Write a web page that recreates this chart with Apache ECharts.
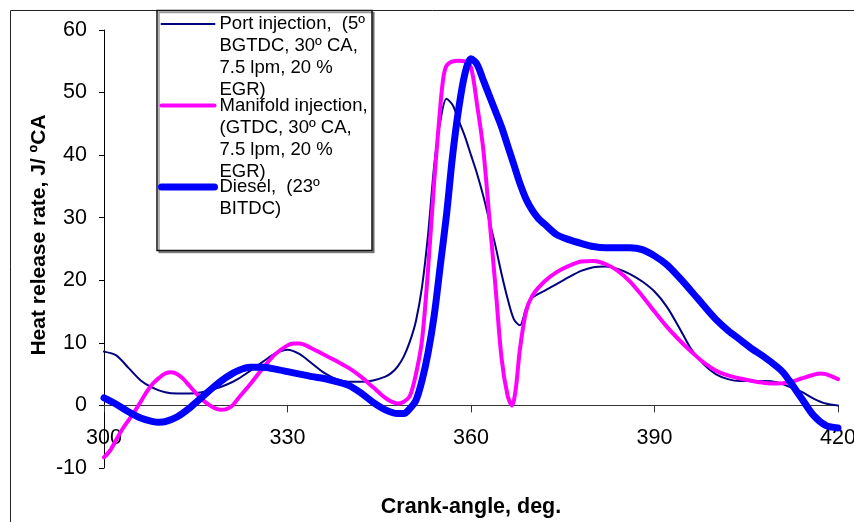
<!DOCTYPE html>
<html>
<head>
<meta charset="utf-8">
<script src="https://cdn.jsdelivr.net/npm/echarts@6/dist/echarts.min.js"></script>
<style>html,body{margin:0;padding:0;background:#fff}#c{width:854px;height:522px}</style>
</head>
<body>
<div id="c"></div>
<script>
const FONT = '"Liberation Sans", Arial, sans-serif';

const xTicks = [300, 330, 360, 390, 420];
const yTicks = [-10, 0, 10, 20, 30, 40, 50, 60];

const seriesNames = [
  'Port injection,  (5º BGTDC, 30º CA, 7.5 lpm, 20 % EGR)',
  'Manifold injection, (GTDC, 30º CA, 7.5 lpm, 20 % EGR)',
  'Diesel,  (23º BITDC)'
];
const legendLines = [
  ['Port injection,  (5º', 'BGTDC, 30º CA,', '7.5 lpm, 20 %', 'EGR)'],
  ['Manifold injection,', '(GTDC, 30º CA,', '7.5 lpm, 20 %', 'EGR)'],
  ['Diesel,  (23º', 'BITDC)']
];

const portAngles = [300,302,304,306,308,310,312,314,316,318,320,322,324,326,328,330,332,334,336,338,340,342,344,346,347,348,349,350,351,352,353,354,355,356,357,358,359,360,361,362,363,364,365,366,367,368,369,370,372,374,376,378,380,382,384,386,388,390,392,394,396,398,400,402,404,406,408,410,412,414,416,418,420];
const portValues = [8.6,8.0,6.0,4.0,2.8,2.1,1.9,1.9,2.1,2.6,3.3,4.3,5.6,7.0,8.3,8.9,8.2,6.7,5.2,4.2,3.8,3.8,4.0,4.6,5.2,6.2,7.8,10.2,13.5,19.0,27.5,38.5,45.5,49.0,48.0,45.5,43.0,40.0,37.0,33.5,29.5,25.5,21.0,17.0,13.8,12.8,15.5,17.2,18.3,19.4,20.5,21.5,22.1,22.2,21.8,21.0,19.8,18.2,15.8,12.5,9.0,6.6,5.0,4.2,3.9,3.9,3.9,3.7,3.0,2.2,1.1,0.3,0.0];

const manifoldAngles = [300,301,302,303,304,305,306,307,308,309,310,311,312,313,314,315,316,317,318,319,320,321,322,324,326,328,330,331,332,334,336,338,340,342,344,346,347,348,349,350,351,352,353,354,355,355.5,356,357,358,359,360,361,362,363,364,365,366,366.7,367.3,368,369,370,372,374,376,378,380,382,384,386,388,390,392,394,396,398,400,402,404,406,408,410,412,414,416,417,418,420];
const manifoldValues = [-8.3,-7.2,-5.5,-3.8,-2.4,-1.0,0.6,2.2,3.5,4.4,5.1,5.3,5.0,4.2,3.1,2.0,1.0,0.2,-0.4,-0.7,-0.6,0.0,1.2,3.5,6.0,8.2,9.6,9.9,9.9,9.1,8.1,7.1,6.0,4.6,2.9,1.2,0.6,0.3,0.6,1.5,5.0,10.5,22.0,36.0,48.0,52.5,54.3,55.0,55.1,55.0,54.0,48.0,41.0,30.0,19.0,7.5,1.5,0.0,2.5,9.0,15.0,17.5,19.8,21.3,22.3,23.0,23.1,22.6,21.5,19.8,17.5,15.0,12.6,10.5,8.6,6.9,5.6,4.8,4.3,3.9,3.6,3.5,3.7,4.3,4.9,5.1,5.0,4.2];

const dieselAngles = [300,302,304,306,308,309,310,312,314,316,318,320,322,324,326,328,330,332,334,336,338,340,342,344,346,348,349,350,351,352,353,354,355,356,357,358,359,360,361,362,363,364,365,366,367,368,369,370,371,372,374,376,378,380,382,384,386,388,390,392,394,396,398,400,402,404,406,408,410,411,412,414,416,418,420];
const dieselValues = [1.2,0.2,-1.0,-2.0,-2.6,-2.7,-2.6,-1.8,-0.4,1.3,3.0,4.5,5.6,6.1,6.1,5.8,5.4,5.0,4.6,4.3,3.8,3.2,2.0,0.5,-0.7,-1.3,-1.3,-0.5,0.8,4.0,8.5,14.5,22.5,30.5,40.0,47.5,53.0,55.4,54.5,52.0,49.5,47.0,44.5,41.5,38.5,35.5,33.0,31.2,29.9,29.0,27.3,26.5,25.9,25.4,25.2,25.2,25.2,24.9,23.9,22.5,20.5,18.3,16.0,13.8,12.0,10.5,9.0,7.7,6.2,5.3,4.0,1.2,-1.6,-3.2,-3.6];

const seriesColors = ['#000080', '#FF00FF', '#0000FF'];
const seriesWidths = [2, 4, 7];

function pairs(xs, ys) { return xs.map((x, i) => [x, ys[i]]); }
const seriesData = [
  pairs(portAngles, portValues),
  pairs(manifoldAngles, manifoldValues),
  pairs(dieselAngles, dieselValues)
];

// Each legend entry is padded with blank lines so that its first text line sits on the icon
const LEGEND_ROWS = 7;
function legendText(lines) {
  const arr = ['', '', ''].concat(lines);
  while (arr.length < LEGEND_ROWS) arr.push('');
  return arr.join('\n');
}
const legendMap = {};
seriesNames.forEach((n, i) => { legendMap[n] = legendText(legendLines[i]); });

const chart = echarts.init(document.getElementById('c'), null, { renderer: 'canvas' });
chart.setOption({
  animation: false,
  backgroundColor: '#fff',
  textStyle: { fontFamily: FONT },
  grid: { left: 104, right: 16, top: 30, bottom: 54, containLabel: false, outerBoundsMode: 'none' },
  graphic: [
    { type: 'rect', z: 0, silent: true, shape: { x: 10.5, y: 10.5, width: 900, height: 600 },
      style: { fill: 'none', stroke: '#222', lineWidth: 1 } },
    { type: 'rect', z: 1, silent: true, shape: { x: 157, y: 10.5, width: 215, height: 240 },
      style: { fill: '#fff', stroke: '#111', lineWidth: 1.5, shadowColor: 'rgba(0,0,0,0.4)', shadowOffsetX: 2, shadowOffsetY: 2, shadowBlur: 0 } }
  ],
  legend: {
    z: 10,
    orient: 'vertical',
    left: 158,
    top: -53,
    padding: 0,
    itemWidth: 53,
    itemHeight: 14,
    itemGap: -72.5,
    selectedMode: false,
    itemStyle: { opacity: 0 },
    formatter: function (name) { return legendMap[name]; },
    textStyle: { fontFamily: FONT, fontSize: 18.5, lineHeight: 22, color: '#000' },
    data: seriesNames.map((n, i) => ({ name: n, lineStyle: { width: seriesWidths[i], color: seriesColors[i], cap: 'round' } }))
  },
  xAxis: {
    type: 'value',
    min: xTicks[0], max: xTicks[xTicks.length - 1], interval: 30,
    name: 'Crank-angle, deg.',
    nameLocation: 'middle',
    nameGap: 91,
    offset: -62.6,
    nameTextStyle: { fontFamily: FONT, fontSize: 21.5, fontWeight: 'bold', color: '#000' },
    axisLine: { onZero: false, lineStyle: { color: '#333', width: 1 } },
    axisTick: { show: true, inside: false, length: 7, lineStyle: { color: '#333' } },
    axisLabel: { fontFamily: FONT, fontSize: 21.5, color: '#000', margin: 22 },
    splitLine: { show: false }
  },
  yAxis: {
    type: 'value',
    min: yTicks[0], max: yTicks[yTicks.length - 1], interval: 10,
    name: 'Heat release rate, J/ ºCA',
    nameLocation: 'middle',
    nameGap: 54,
    nameMoveOverlap: false,
    nameTextStyle: { fontFamily: FONT, fontSize: 21, fontWeight: 'bold', color: '#000', padding: [0, 0, 0, 28] },
    axisLine: { show: true, onZero: false, lineStyle: { color: '#000', width: 1 } },
    axisTick: { show: true, inside: false, length: 5, lineStyle: { color: '#000' } },
    axisLabel: { fontFamily: FONT, fontSize: 21.5, color: '#000', margin: 17 },
    splitLine: { show: false }
  },
  series: seriesNames.map((name, i) => ({
    name: name,
    type: 'line',
    data: seriesData[i],
    symbol: 'none',
    smooth: 0.3,
    z: 2 + i,
    lineStyle: { color: seriesColors[i], width: seriesWidths[i], cap: 'round', join: 'round' },
    itemStyle: { color: seriesColors[i] }
  }))
});
</script>
</body>
</html>
